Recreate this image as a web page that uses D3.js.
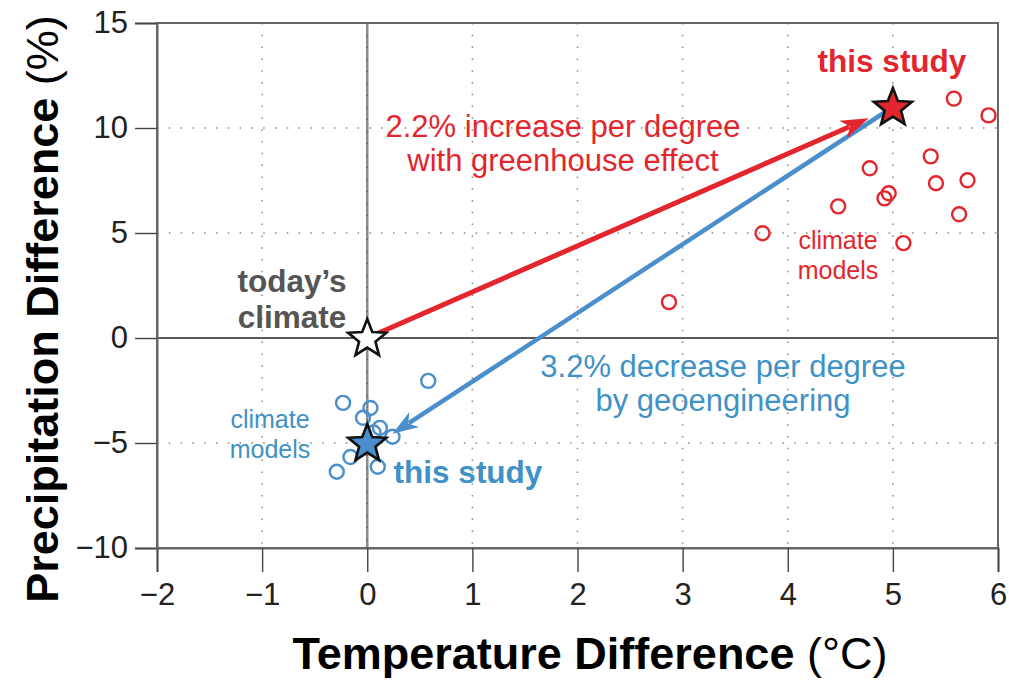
<!DOCTYPE html>
<html><head><meta charset="utf-8">
<script src="https://cdn.jsdelivr.net/npm/d3@7"></script>
<style>
html,body{margin:0;padding:0;background:#fff;}
svg{display:block;font-family:"Liberation Sans",Arial,Helvetica,sans-serif;}
</style></head>
<body>
<svg id="chart" width="1009" height="680"></svg>
<script>
// ---- data ----
const xTicks = [-2,-1,0,1,2,3,4,5,6];
const yTicks = [-10,-5,0,5,10,15];
const xGrid = [-1,1,2,3,4,5];
const yGrid = [-5,5,10];
const redModelsX = [2.87,3.76,4.48,4.78,4.92,4.96,5.10,5.36,5.41,5.71,5.63,5.58,5.91];
const redModelsY = [1.71,4.99,6.27,8.08,6.65,6.89,4.52,8.65,7.37,7.51,5.89,11.4,10.6];
const blueModelsX = [0.58,-0.23,0.03,-0.04,0.12,0.06,0.24,-0.16,0.10,-0.29];
const blueModelsY = [-2.04,-3.09,-3.33,-3.80,-4.28,-4.50,-4.70,-5.67,-6.13,-6.37];
const todayPoint = [0,0];
const redStudy = [5,11];
const blueStudy = [0,-5];
const redArrow = [[0,0],[4.77,10.46]];
const blueArrow = [[5,11],[0.24,-4.56]];

const W=1009,H=680;
const m={left:157,right:11,top:23,bottom:132};
const svg=d3.select("#chart");
const x=d3.scaleLinear().domain([-2,6]).range([m.left,W-m.right]);
const y=d3.scaleLinear().domain([-10,15]).range([H-m.bottom,m.top]);
const RED="#e3262d", BLUE="#3f91c6", BLUEFILL="#4a8fcc", GRAY="#555";
const FONT="Liberation Sans, Arial, Helvetica, sans-serif";

// grid dotted
const g=svg.append("g");
g.selectAll(".vg").data(xGrid).join("line")
 .attr("x1",d=>x(d)).attr("x2",d=>x(d)).attr("y1",y(15)).attr("y2",y(-10))
 .attr("stroke","#888").attr("stroke-width",1.5).attr("stroke-dasharray","1.5,10.3");
g.selectAll(".hg").data(yGrid).join("line")
 .attr("x1",x(-2)).attr("x2",x(6)).attr("y1",d=>y(d)).attr("y2",d=>y(d))
 .attr("stroke","#888").attr("stroke-width",1.5).attr("stroke-dasharray","1.5,10.3");

// zero lines
g.append("line").attr("x1",x(0)).attr("x2",x(0)).attr("y1",y(15)).attr("y2",y(-10))
 .attr("stroke","#8c8c8c").attr("stroke-width",2.6);
g.append("line").attr("x1",x(0)).attr("x2",x(0)).attr("y1",y(15)).attr("y2",y(-10))
 .attr("stroke","#555").attr("stroke-width",1).attr("stroke-dasharray","1,11");
g.append("line").attr("x1",x(-2)).attr("x2",x(6)).attr("y1",y(0)).attr("y2",y(0))
 .attr("stroke","#222").attr("stroke-width",1.4);

// frame
svg.append("rect").attr("x",x(-2)).attr("y",y(15)).attr("width",x(6)-x(-2)).attr("height",y(-10)-y(15))
 .attr("fill","none").attr("stroke","#666").attr("stroke-width",2);

// axes
const xAxis=svg.append("g").attr("transform",`translate(0,${y(-10)})`);
xAxis.call(d3.axisBottom(x).tickValues(d3.range(-2,6.01,0.5)).tickSize(12).tickFormat(""))
xAxis.call(d3.axisBottom(x).tickValues(xTicks).tickSize(24).tickPadding(11).tickFormat(d3.format("d")));
xAxis.selectAll(".domain").attr("stroke","#666").attr("stroke-width",2);
xAxis.selectAll("line").attr("stroke","#444").attr("stroke-width",1.4);
xAxis.selectAll("text").attr("font-size",31).attr("fill","#222").attr("font-family",FONT);

const yAxis=svg.append("g").attr("transform",`translate(${x(-2)},0)`);
yAxis.call(d3.axisLeft(y).tickValues(d3.range(-10,15.01,1)).tickSize(11).tickFormat(""));
yAxis.call(d3.axisLeft(y).tickValues(yTicks).tickSize(22).tickPadding(7).tickFormat(d3.format("d")));
yAxis.selectAll(".domain").attr("stroke","#666").attr("stroke-width",2);
yAxis.selectAll("line").attr("stroke","#444").attr("stroke-width",1.4);
yAxis.selectAll("text").attr("font-size",31).attr("fill","#222").attr("font-family",FONT);

// arrows
function arrow(pts,color,w,len,half){
  const [p0,p1]=pts;
  const x0=x(p0[0]),y0=y(p0[1]),x1=x(p1[0]),y1=y(p1[1]);
  const a=Math.atan2(y1-y0,x1-x0);
  const bx=x1-len*0.75*Math.cos(a), by=y1-len*0.75*Math.sin(a);
  svg.append("line").attr("x1",x0).attr("y1",y0).attr("x2",bx).attr("y2",by)
    .attr("stroke",color).attr("stroke-width",w);
  const c=Math.cos(a),s=Math.sin(a);
  const pt=(l,o)=>[x1-l*c - o*s, y1-l*s + o*c];
  const p=[pt(0,0),pt(len,half),pt(len*0.72,0),pt(len,-half)];
  svg.append("path").attr("d","M"+p.map(q=>q.join(",")).join("L")+"Z").attr("fill",color);
}
arrow(blueArrow,BLUEFILL,4.5,26,9);
arrow(redArrow,RED,5,28,9.5);

// model circles
svg.selectAll(".rc").data(redModelsX.map((d,i)=>[d,redModelsY[i]])).join("circle")
 .attr("cx",d=>x(d[0])).attr("cy",d=>y(d[1])).attr("r",7).attr("fill","none")
 .attr("stroke",RED).attr("stroke-width",2.4);
svg.selectAll(".bc").data(blueModelsX.map((d,i)=>[d,blueModelsY[i]])).join("circle")
 .attr("cx",d=>x(d[0])).attr("cy",d=>y(d[1])).attr("r",7).attr("fill","none")
 .attr("stroke",BLUEFILL).attr("stroke-width",2.4);

// stars
function starPath(R,r){
  let s="";
  for(let i=0;i<10;i++){
    const rad=i%2?r:R, a=-Math.PI/2+i*Math.PI/5;
    s+=(i?"L":"M")+(rad*Math.cos(a)).toFixed(2)+","+(rad*Math.sin(a)).toFixed(2);
  }
  return s+"Z";
}
[[todayPoint,"#fff"],[redStudy,"#e3262d"],[blueStudy,"#4a8fcc"]].forEach(([p,f])=>{
  svg.append("path").attr("d",starPath(20,8.6))
   .attr("transform",`translate(${x(p[0])},${y(p[1])+1})`)
   .attr("fill",f).attr("stroke","#111").attr("stroke-width",2.6).attr("stroke-linejoin","miter");
});

// annotations
function label(lines,cx,by,size,color,weight,lh){
  lines.forEach((t,i)=>svg.append("text").attr("x",cx).attr("y",by+i*lh)
    .attr("text-anchor","middle").attr("font-size",size).attr("font-weight",weight)
    .attr("fill",color).text(t));
}
label(["this study"],892,72,31.5,RED,"bold",0);
label(["2.2% increase per degree","with greenhouse effect"],563,137,31,RED,"normal",34);
label(["3.2% decrease per degree","by geoengineering"],723,377,31,BLUE,"normal",34);
label(["today\u2019s","climate"],292,292,31.5,GRAY,"bold",36);
label(["climate","models"],270,428,25,BLUE,"normal",30);
label(["this study"],468,483,31.5,BLUE,"bold",0);
label(["climate","models"],838,249,25,RED,"normal",30);

// axis titles
const xt=svg.append("text").attr("x",590).attr("y",669).attr("text-anchor","middle")
 .attr("font-size",45).attr("fill","#000");
xt.append("tspan").attr("font-weight","bold").text("Temperature Difference");
xt.append("tspan").attr("font-weight","normal").text(" (\u00B0C)");
const yt=svg.append("text").attr("transform","translate(58,309) rotate(-90)").attr("text-anchor","middle")
 .attr("font-size",45).attr("fill","#000");
yt.append("tspan").attr("font-weight","bold").text("Precipitation Difference");
yt.append("tspan").attr("font-weight","normal").text(" (%)");
</script>
</body></html>
